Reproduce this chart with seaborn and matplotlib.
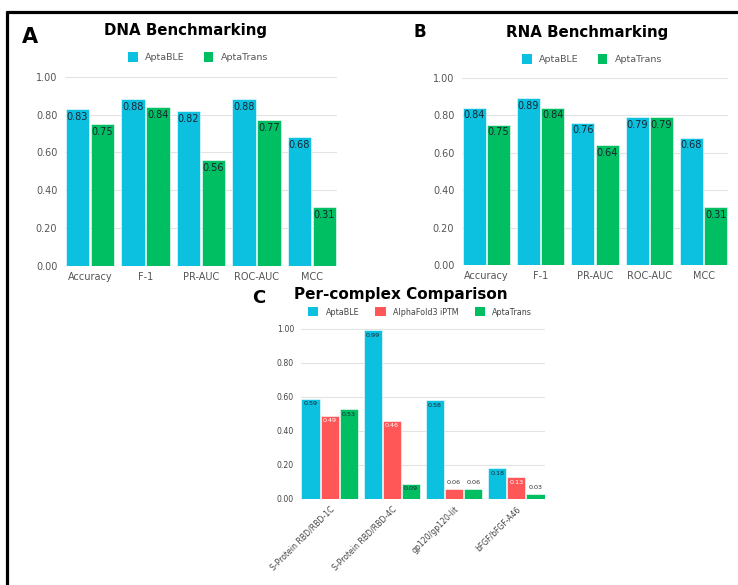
import matplotlib
matplotlib.use("Agg")
import matplotlib.pyplot as plt
from matplotlib.patches import Patch
from matplotlib.lines import Line2D
import seaborn as sns
import pandas as pd

# ---------------- data ----------------
metrics = ["Accuracy", "F-1", "PR-AUC", "ROC-AUC", "MCC"]
dna_aptable = [0.83, 0.88, 0.82, 0.88, 0.68]
dna_aptatrans = [0.75, 0.84, 0.56, 0.77, 0.31]
rna_aptable = [0.84, 0.89, 0.76, 0.79, 0.68]
rna_aptatrans = [0.75, 0.84, 0.64, 0.79, 0.31]

complexes = ["S-Protein RBD/RBD-1C", "S-Protein RBD/RBD-4C", "gp120/gp120-lit", "bFGF/bFGF-A46"]
c_aptable = [0.59, 0.99, 0.58, 0.18]
c_alphafold = [0.49, 0.46, 0.06, 0.13]
c_aptatrans = [0.53, 0.09, 0.06, 0.03]

yticks = [0.0, 0.2, 0.4, 0.6, 0.8, 1.0]

CYAN = "#0CC0DF"
GREEN = "#00BF63"
RED = "#FF5757"
palette = {"AptaBLE": CYAN, "AlphaFold3 iPTM": RED, "AptaTrans": GREEN}

sns.set_style("white")
plt.rcParams["font.family"] = ["DejaVu Sans"]

W, H = 738, 585
fig = plt.figure(figsize=(W / 100, H / 100), dpi=100)


def rect(l, t, r, b):
    return [l / W, 1 - b / H, (r - l) / W, (b - t) / H]


def fx(x):
    return x / W


def fy(y):
    return 1 - y / H


def long_df(cats, series):
    rows = []
    for name, vals in series:
        for c, v in zip(cats, vals):
            rows.append({"cat": c, "model": name, "value": v})
    return pd.DataFrame(rows)


def style_axes(ax, fs, tickcolor):
    ax.set_ylim(0, 1.004)
    ax.set_yticks(yticks)
    ax.set_yticklabels([f"{t:.2f}" for t in yticks])
    ax.yaxis.grid(True, color="#e3e3e3", linewidth=0.8)
    ax.set_axisbelow(True)
    for s in ax.spines.values():
        s.set_visible(False)
    ax.tick_params(axis="both", length=0, labelsize=fs, colors=tickcolor)
    ax.tick_params(axis="y", pad=5.5)
    ax.tick_params(axis="x", pad=4)
    ax.set_xlabel("")
    ax.set_ylabel("")


def label_bars(ax, fs, txtcolors, small=None):
    for i, cont in enumerate(ax.containers):
        for p in cont:
            h = p.get_height()
            x = p.get_x() + p.get_width() / 2
            if small is not None and h < small:
                ax.annotate(f"{h:.2f}", (x, h), xytext=(0, 2.5), textcoords="offset points",
                            ha="center", va="bottom", fontsize=fs, color="#333333")
            else:
                ax.annotate(f"{h:.2f}", (x, h), xytext=(0, -2), textcoords="offset points",
                            ha="center", va="top", fontsize=fs, color=txtcolors[i])


def panel_ab(box, aptable, aptatrans, title, title_xy, letter, letter_xy, letter_fs, leg_xy):
    ax = fig.add_axes(rect(*box))
    df = long_df(metrics, [("AptaBLE", aptable), ("AptaTrans", aptatrans)])
    sns.barplot(data=df, x="cat", y="value", hue="model", palette=palette,
                width=0.9, gap=0.06, errorbar=None, legend=False, ax=ax,
                edgecolor="white", linewidth=0.4, saturation=1)
    ax.set_xlim(-0.45, len(metrics) - 0.55)
    style_axes(ax, 7, "#555555")
    label_bars(ax, 7, ["#1c2430", "#1c2430"])
    fig.text(fx(title_xy[0]), fy(title_xy[1]), title, fontsize=10.8, fontweight="bold",
             ha="center", va="center", color="black")
    fig.text(fx(letter_xy[0]), fy(letter_xy[1]), letter, fontsize=letter_fs, fontweight="bold",
             ha="center", va="center", color="black")
    handles = [Patch(facecolor=CYAN, edgecolor="none", label="AptaBLE"),
               Patch(facecolor=GREEN, edgecolor="none", label="AptaTrans")]
    fig.legend(handles=handles, loc="center", bbox_to_anchor=(fx(leg_xy[0]), fy(leg_xy[1])),
               ncol=2, frameon=False, fontsize=6.8, handlelength=1.05, handleheight=1.25,
               handletextpad=0.8, columnspacing=2.0, labelcolor="#555555")
    return ax


panel_ab((65, 76, 337, 266), dna_aptable, dna_aptatrans, "DNA Benchmarking", (186, 31),
         "A", (29.5, 37), 15, (198, 57))
panel_ab((462, 77, 728, 265), rna_aptable, rna_aptatrans, "RNA Benchmarking", (587, 32),
         "B", (420, 32), 12, (592, 59))

# ---------------- panel C ----------------
axc = fig.add_axes(rect(301, 328, 545, 499))
dfc = long_df(complexes, [("AptaBLE", c_aptable), ("AlphaFold3 iPTM", c_alphafold),
                          ("AptaTrans", c_aptatrans)])
sns.barplot(data=dfc, x="cat", y="value", hue="model", palette=palette,
            width=0.92, gap=0.05, errorbar=None, legend=False, ax=axc,
            edgecolor="white", linewidth=0.4, saturation=1)
axc.set_xlim(-0.46, len(complexes) - 0.54)
style_axes(axc, 5.6, "#444444")
axc.tick_params(axis="y", pad=5)
for lab in axc.get_xticklabels():
    lab.set_rotation(45)
    lab.set_ha("right")
    lab.set_rotation_mode("anchor")
label_bars(axc, 4.6, ["#1c2430", "#ffffff", "#1c2430"], small=0.07)

fig.text(fx(401), fy(294), "Per-complex Comparison", fontsize=11, fontweight="bold",
         ha="center", va="center", color="black")
fig.text(fx(259), fy(298), "C", fontsize=13, fontweight="bold", ha="center", va="center",
         color="black")
handles_c = [Patch(facecolor=CYAN, edgecolor="none", label="AptaBLE"),
             Patch(facecolor=RED, edgecolor="none", label="AlphaFold3 iPTM"),
             Patch(facecolor=GREEN, edgecolor="none", label="AptaTrans")]
fig.legend(handles=handles_c, loc="center", bbox_to_anchor=(fx(420), fy(312)),
           ncol=3, frameon=False, fontsize=5.8, handlelength=1.3, handleheight=1.3,
           handletextpad=0.9, columnspacing=2.0, labelcolor="#444444")

# ---------------- frame lines ----------------
fig.add_artist(Line2D([fx(5.5), 1.0], [fy(11.5), fy(11.5)], color="black", linewidth=2.3,
                      transform=fig.transFigure, solid_capstyle="butt"))
fig.add_artist(Line2D([fx(7), fx(7)], [fy(10.5), 0.0], color="black", linewidth=2.3,
                      transform=fig.transFigure, solid_capstyle="butt"))

fig.savefig("out.png", dpi=100)
